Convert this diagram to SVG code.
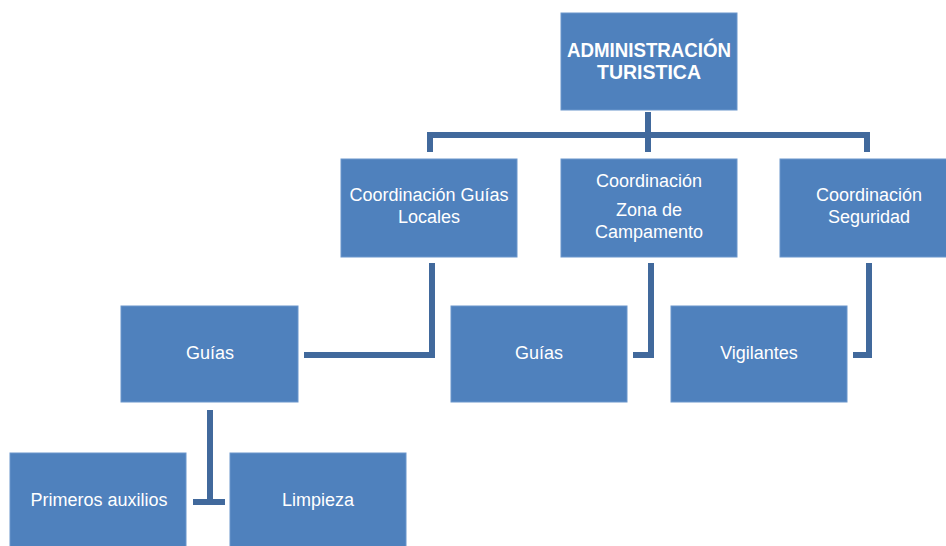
<svg xmlns="http://www.w3.org/2000/svg" width="946" height="546" viewBox="0 0 946 546">
<style>
.box{fill:#4f81bd;stroke:#6a96cc;stroke-width:1}
.t{font-family:"Liberation Sans",Arial,sans-serif;font-size:18px;fill:#ffffff;text-anchor:middle}
.tb{font-family:"Liberation Sans",Arial,sans-serif;font-size:20px;font-weight:bold;fill:#ffffff;text-anchor:middle}
.c{fill:none;stroke:#41699c;stroke-width:6;stroke-linejoin:miter}
</style>
<rect width="946" height="546" fill="#ffffff"/>
<g id="connectors">
<path class="c" d="M648,112 V152"/>
<path class="c" d="M430,152 V135 H867 V152"/>
<path class="c" d="M432,263 V355 H304"/>
<path class="c" d="M651,263 V355 H633"/>
<path class="c" d="M869,263 V355 H853"/>
<path class="c" d="M210,410 V502"/>
<path class="c" d="M193,502 H225"/>
</g>
<g id="n-admin">
<rect class="box" x="561" y="13" width="176" height="97"/>
<text class="tb" x="649" y="57" textLength="164" lengthAdjust="spacingAndGlyphs">ADMINISTRACIÓN</text>
<text class="tb" x="649" y="79" textLength="104" lengthAdjust="spacingAndGlyphs">TURISTICA</text>
</g>
<g id="n-coord-guias">
<rect class="box" x="341" y="159" width="176" height="98"/>
<text class="t" x="429" y="201">Coordinación Guías</text>
<text class="t" x="429" y="223">Locales</text>
</g>
<g id="n-coord-zona">
<rect class="box" x="561" y="159" width="176" height="98"/>
<text class="t" x="649" y="187">Coordinación</text>
<text class="t" x="649" y="216">Zona de</text>
<text class="t" x="649" y="238">Campamento</text>
</g>
<g id="n-coord-seg">
<rect class="box" x="780" y="159" width="170" height="98"/>
<text class="t" x="869" y="201">Coordinación</text>
<text class="t" x="869" y="223">Seguridad</text>
</g>
<g id="n-guias1">
<rect class="box" x="121" y="306" width="177" height="96"/>
<text class="t" x="210" y="359">Guías</text>
</g>
<g id="n-guias2">
<rect class="box" x="451" y="306" width="176" height="96"/>
<text class="t" x="539" y="359">Guías</text>
</g>
<g id="n-vigilantes">
<rect class="box" x="671" y="306" width="176" height="96"/>
<text class="t" x="759" y="359">Vigilantes</text>
</g>
<g id="n-primeros">
<rect class="box" x="10" y="453" width="176" height="96"/>
<text class="t" x="99" y="506">Primeros auxilios</text>
</g>
<g id="n-limpieza">
<rect class="box" x="230" y="453" width="176" height="96"/>
<text class="t" x="318" y="506">Limpieza</text>
</g>
</svg>
